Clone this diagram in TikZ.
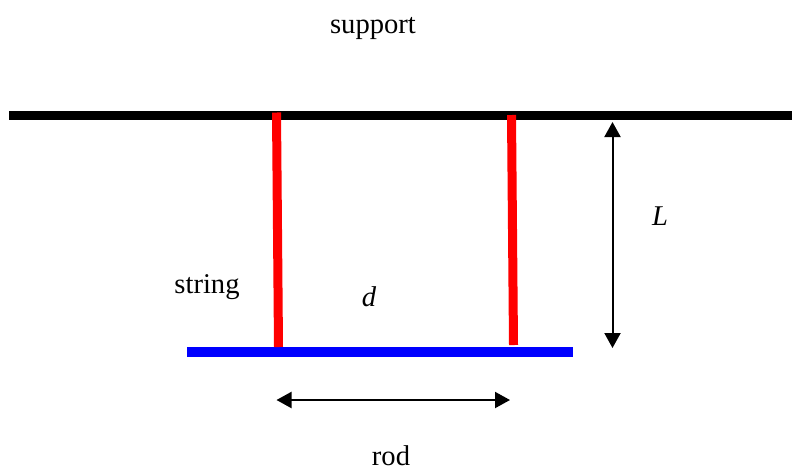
\documentclass[tikz,border=0pt]{standalone}
\usepackage{fontspec}
\setmainfont{Liberation Serif}
\usetikzlibrary{arrows.meta, positioning, calc}

\begin{document}
\begin{tikzpicture}[x=0.5pt, y=-0.5pt,
    stringline/.style={red, line width=4.5pt},
    dimarrow/.style={{Triangle[length=7.5pt,width=8pt]}-{Triangle[length=7.5pt,width=8pt]}, line width=1pt},
    lbl/.style={font=\fontsize{14.3}{17}\selectfont, inner sep=0pt, anchor=base}]
    \useasboundingbox (0,0) rectangle (792,472);

    % Support
    \coordinate (supL) at (9,115.5);
    \coordinate (supR) at (792,115.5);
    \draw[line width=4.5pt] (supL) -- (supR);
    \node[lbl] (support) at (373,33) {support};

    % Rod
    \coordinate (rodL) at (187,352);
    \coordinate (rodR) at (573,352);
    \draw[blue, line width=5pt] (rodL) -- (rodR);
    \node[lbl] (rod) at (391,465) {rod};

    % Strings
    \coordinate (s1top) at (276.5,112.5);
    \coordinate (s1bot) at (278.5,347);
    \coordinate (s2top) at (511.5,115);
    \coordinate (s2bot) at (513.5,345);
    \draw[stringline] (s1top) -- (s1bot);
    \draw[stringline] (s2top) -- (s2bot);
    \node[lbl] (string) at (207,293) {string};

    % Length L
    \coordinate (Ltop) at (612.5,122);
    \coordinate (Lbot) at (612.5,348);
    \draw[dimarrow] (Ltop) -- (Lbot);
    \node[lbl] (Llabel) at (660,225) {\itshape L};

    % Distance d
    \coordinate (dleft) at (276.5,400);
    \coordinate (dright) at (510,400);
    \draw[dimarrow] (dleft) -- (dright);
    \node[lbl] (dlabel) at (369,306) {\itshape d};
\end{tikzpicture}
\end{document}
